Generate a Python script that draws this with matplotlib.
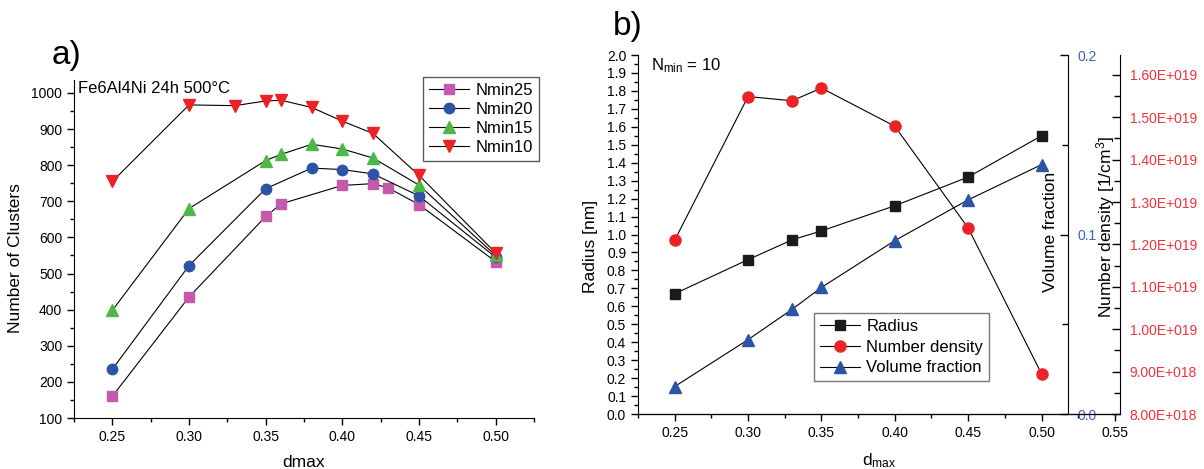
import numpy as np
import matplotlib
matplotlib.use("Agg")
import matplotlib.pyplot as plt
from matplotlib.ticker import MultipleLocator, FuncFormatter, FormatStrFormatter

plt.rcParams['font.family'] = ['Liberation Sans', 'DejaVu Sans']
plt.rcParams['mathtext.default'] = 'regular'

# ---- panel a data ----
x25 = [0.25, 0.30, 0.35, 0.36, 0.40, 0.42, 0.43, 0.45, 0.50]
n25 = [160, 435, 658, 693, 744, 749, 737, 691, 533]
x20 = [0.25, 0.30, 0.35, 0.38, 0.40, 0.42, 0.45, 0.50]
n20 = [235, 522, 735, 792, 788, 776, 715, 545]
x15 = [0.25, 0.30, 0.35, 0.36, 0.38, 0.40, 0.42, 0.45, 0.50]
n15 = [398, 680, 813, 830, 858, 845, 820, 745, 550]
x10 = [0.25, 0.30, 0.33, 0.35, 0.36, 0.38, 0.40, 0.42, 0.45, 0.50]
n10 = [755, 967, 965, 978, 980, 960, 922, 888, 772, 557]

# ---- panel b data ----
xb = [0.25, 0.30, 0.33, 0.35, 0.40, 0.45, 0.50]
radius = [0.67, 0.86, 0.97, 1.02, 1.16, 1.32, 1.55]
numdens = [1.21e19, 1.549e19, 1.539e19, 1.569e19, 1.479e19, 1.239e19, 8.95e18]
volfrac = [0.0153, 0.0414, 0.0583, 0.0705, 0.0966, 0.1193, 0.1389]

MAG = '#C559AC'
BLU = '#2B54A5'
GRN = '#4DB848'
RED = '#EC2227'

fig = plt.figure(figsize=(12.04, 4.69), dpi=100)

# ================= panel a =================
ax = fig.add_axes([74/1204, 51/469, 460/1204, 338/469])
lw = 0.8
ax.plot(x25, n25, '-', color='k', lw=lw, marker='s', ms=6.5, mfc=MAG, mec=MAG, label='Nmin25')
ax.plot(x20, n20, '-', color='k', lw=lw, marker='o', ms=7.5, mfc=BLU, mec=BLU, label='Nmin20')
ax.plot(x15, n15, '-', color='k', lw=lw, marker='^', ms=8, mfc=GRN, mec=GRN, label='Nmin15')
ax.plot(x10, n10, '-', color='k', lw=lw, marker='v', ms=8, mfc=RED, mec=RED, label='Nmin10')

ax.set_xlim(0.225, 0.525)
ax.set_ylim(100, 1036)
ax.xaxis.set_major_locator(MultipleLocator(0.05))
ax.xaxis.set_minor_locator(MultipleLocator(0.025))
ax.xaxis.set_major_formatter(FormatStrFormatter('%.2f'))
ax.yaxis.set_major_locator(MultipleLocator(100))
ax.yaxis.set_minor_locator(MultipleLocator(50))
for s in ['top', 'right']:
    ax.spines[s].set_visible(False)
ax.tick_params(which='major', length=5, width=1, labelsize=10)
ax.tick_params(which='minor', length=3, width=1)
ax.set_ylabel('Number of Clusters', fontsize=12.5)
ax.yaxis.set_label_coords(-0.11, 0.473)
ax.set_xlabel('dmax', fontsize=12.5)
ax.xaxis.set_label_coords(0.5, -0.11)
ax.xaxis.label.set_va('top')
ax.text(0.008, 0.975, 'Fe6Al4Ni 24h 500°C', transform=ax.transAxes,
        fontsize=12, ha='left', va='center')
leg = ax.legend(loc='upper right', bbox_to_anchor=(539/1204, (469-77)/469),
                bbox_transform=fig.transFigure, fontsize=12, frameon=True,
                fancybox=False, edgecolor='#333333', handlelength=2.4,
                labelspacing=0.25, borderpad=0.35, handletextpad=0.4, borderaxespad=0)
leg.get_frame().set_linewidth(1.0)
fig.text(52/1204, 1 - 64/469, 'a)', fontsize=24, ha='left', va='baseline')

# ================= panel b =================
axb = fig.add_axes([638/1204, 55/469, 482/1204, 359/469])
axv = axb.twinx()
axn = axb.twinx()

l1, = axb.plot(xb, radius, '-', color='k', lw=lw, marker='s', ms=7, mfc='#1a1a1a', mec='#1a1a1a', label='Radius')
l2, = axn.plot(xb, numdens, '-', color='k', lw=lw, marker='o', ms=8, mfc=RED, mec=RED, label='Number density')
l3, = axv.plot(xb, volfrac, '-', color='k', lw=lw, marker='^', ms=8.5, mfc=BLU, mec=BLU, label='Volume fraction')

axb.set_xlim(0.225, 0.5535)
axb.set_ylim(0.0, 2.0)
axv.set_ylim(0.0, 0.2)
axn.set_ylim(8.0e18, 1.647e19)

axb.xaxis.set_major_locator(MultipleLocator(0.05))
axb.xaxis.set_minor_locator(MultipleLocator(0.025))
axb.xaxis.set_major_formatter(FormatStrFormatter('%.2f'))
axb.yaxis.set_major_locator(MultipleLocator(0.1))
axb.yaxis.set_minor_locator(MultipleLocator(0.05))
axb.yaxis.set_major_formatter(FormatStrFormatter('%.1f'))

axv.yaxis.set_major_locator(MultipleLocator(0.1))
axv.yaxis.set_minor_locator(MultipleLocator(0.05))
axv.yaxis.set_major_formatter(FormatStrFormatter('%.1f'))


def sci(v, pos):
    e = int(np.floor(np.log10(v)))
    m = v / 10**e
    return f"{m:.2f}E+{e:03d}"


axn.yaxis.set_major_locator(MultipleLocator(1e18))
axn.yaxis.set_minor_locator(MultipleLocator(5e17))
axn.yaxis.set_major_formatter(FuncFormatter(sci))
axn.yaxis.get_offset_text().set_visible(False)

for a in (axb, axv, axn):
    a.spines['top'].set_visible(False)
axb.spines['right'].set_visible(False)
axv.spines['right'].set_position(('axes', 430/482))
axv.spines['left'].set_visible(False)
axn.spines['left'].set_visible(False)

axb.tick_params(which='major', length=5, width=1, labelsize=10)
axb.tick_params(which='minor', length=3, width=1)
axv.tick_params(which='major', direction='in', length=6, width=1, labelsize=10,
                labelcolor='#3D63B5', pad=7)
axv.tick_params(which='minor', direction='in', length=4, width=1)
axn.tick_params(which='major', direction='in', length=6, width=1, labelsize=10,
                labelcolor='#F0323A', pad=7)
axn.tick_params(which='minor', direction='in', length=4, width=1)

axb.set_ylabel('Radius [nm]', fontsize=12.5)
axb.yaxis.set_label_coords(-0.083, 0.466)
axb.set_xlabel(r'd$_{max}$', fontsize=12.5)
axb.xaxis.set_label_coords(0.5, -0.105)
axb.xaxis.label.set_va('top')
axb.text(0.855, 0.508, 'Volume fraction', transform=axb.transAxes, rotation=90,
         fontsize=12.5, ha='center', va='center')
axb.text(0.971, 0.52, r'Number density [1/cm$^3$]', transform=axb.transAxes, rotation=90,
         fontsize=12.5, ha='center', va='center')
axb.text(0.028, 0.97, r'N$_{min}$ = 10', transform=axb.transAxes,
         fontsize=12, ha='left', va='center')

legb = axb.legend([l1, l2, l3], ['Radius', 'Number density', 'Volume fraction'],
                  loc='upper left', bbox_to_anchor=(814/1204, (469-313)/469),
                  bbox_transform=fig.transFigure, fontsize=12, frameon=True,
                  fancybox=False, edgecolor='#555555', handlelength=2.4,
                  labelspacing=0.35, borderpad=0.35, handletextpad=0.4, borderaxespad=0)
legb.get_frame().set_linewidth(1.0)
fig.text(613/1204, 1 - 35/469, 'b)', fontsize=24, ha='left', va='baseline')

fig.savefig('out.png', dpi=100)
